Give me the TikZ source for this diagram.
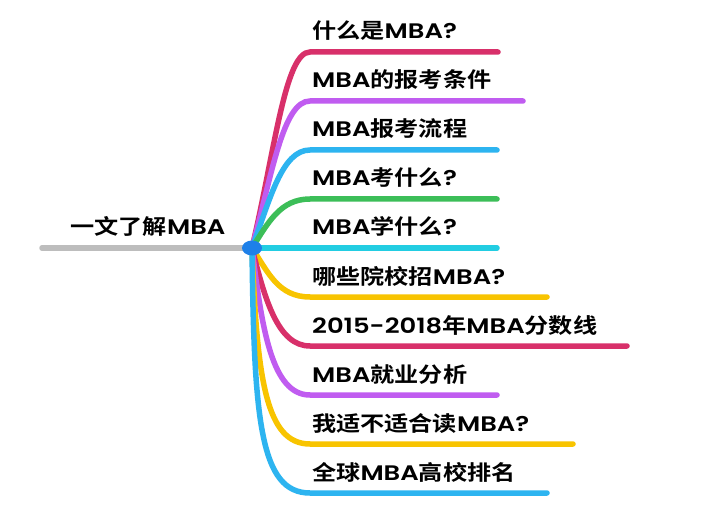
\documentclass[tikz,border=0pt]{standalone}
\usepackage{fontspec}
\usepackage{graphicx}
\usetikzlibrary{shapes.geometric}
\newfontfamily\cjk{Noto Sans CJK SC Bold}
\newfontfamily\lat{Poppins SemiBold}
\newcommand\lt[1]{\scalebox{1.07}[1]{\lat #1}}
\newcommand\wide[1]{\scalebox{1.15}[1]{#1}}
\definecolor{cpink}{HTML}{D8306A}
\definecolor{cpurple}{HTML}{C05CF0}
\definecolor{cblue}{HTML}{2DB4F0}
\definecolor{cgreen}{HTML}{3CBE58}
\definecolor{ccyan}{HTML}{22CDE2}
\definecolor{cyellow}{HTML}{F8C400}
\definecolor{cgray}{HTML}{BDBDBD}
\definecolor{chub}{HTML}{1E80E8}
\tikzset{
  branch/.style={line width=5.5pt, line cap=round},
  lbl/.style={anchor=base west, inner sep=0pt, font=\cjk\fontsize{21}{21}\selectfont, text=black},
}
\begin{document}
\begin{tikzpicture}[x=1pt,y=-1pt]
\useasboundingbox (0,0) rectangle (720,513);
\fill[white] (0,0) rectangle (720,513);
\coordinate (c) at (252,248);
\coordinate (r) at (42,248);
\draw[branch, cgray] (r) -- (c);
\node[lbl, anchor=base] (root) at (148,235) {\wide{一文了解\lt{MBA}}};
\foreach \y/\e/\col/\ax/\ay/\bx/\t [count=\i] in {
  52/498/cpink/275/150/285/{什么是\lt{MBA?}},
  101/523/cpurple/272/174/283/{\lt{MBA}的报考条件},
  150/497/cblue/270/199/282/{\lt{MBA}报考流程},
  199/497/cgreen/268/223/280/{\lt{MBA}考什么\lt{?}},
  297/547/cyellow/268/272/278/{哪些院校招\lt{MBA?}},
  346/627/cpink/265/300/278/{\lt{2015-2018}年\lt{MBA}分数线},
  395/497/cpurple/262/330/272/{\lt{MBA}就业分析},
  444/573/cyellow/257/380/266/{我适不适合读\lt{MBA?}},
  493/547/cblue/254/420/260/{全球\lt{MBA}高校排名}} {
  \coordinate (e\i) at (\e,\y);
  \draw[branch, \col] (c) .. controls (\ax,\ay) and (\bx,\y) .. (310,\y) -- (e\i);
  \node[lbl] (t\i) at (312,\y-13) {\wide{\t}};
}
\coordinate (ec) at (497,248);
\draw[branch, ccyan] (c) -- (ec);
\node[lbl] (tc) at (312,235) {\wide{\lt{MBA}学什么\lt{?}}};
\node[ellipse, fill=chub, minimum width=20pt, minimum height=15pt, inner sep=0pt] (hub) at (c) {};
\end{tikzpicture}
\end{document}
